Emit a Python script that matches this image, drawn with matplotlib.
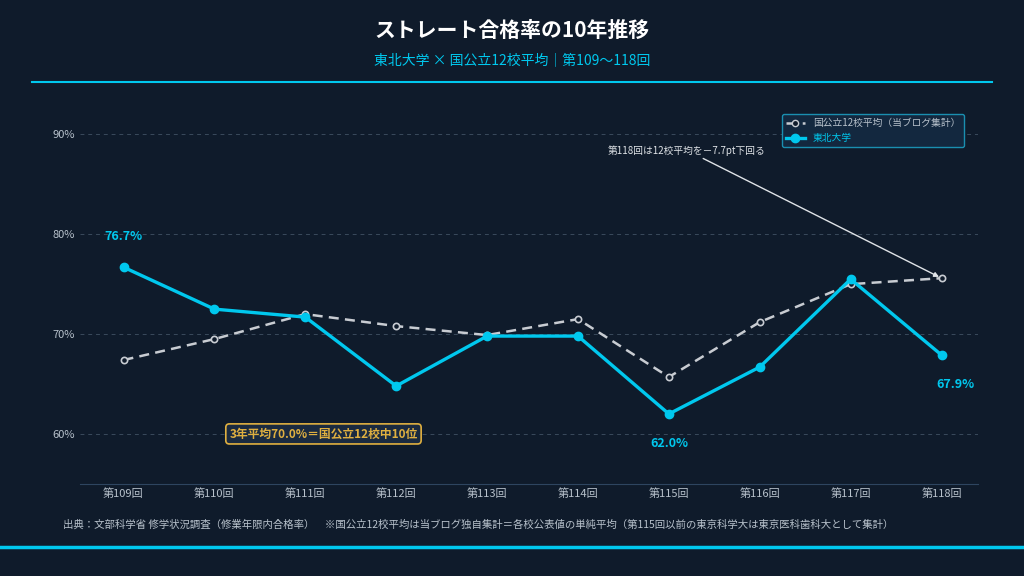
import matplotlib
matplotlib.use('Agg')
import matplotlib.pyplot as plt
from matplotlib.lines import Line2D

plt.rcParams['font.family'] = ['Noto Sans CJK JP', 'DejaVu Sans']

# --- data ---
rounds = ['第109回', '第110回', '第111回', '第112回', '第113回',
          '第114回', '第115回', '第116回', '第117回', '第118回']
tohoku = [76.7, 72.5, 71.7, 64.8, 69.8, 69.8, 62.0, 66.7, 75.5, 67.9]
avg12 = [67.4, 69.5, 72.0, 70.8, 69.9, 71.5, 65.7, 71.2, 75.0, 75.6]
yticks = [60, 70, 80, 90]

BG = '#0f1b2b'
CYAN = '#00c8ee'
GRID = '#3a4a5c'
TXT = '#b8c2cc'
GOLD = '#e0b040'

fig = plt.figure(figsize=(10.24, 5.76), dpi=100, facecolor=BG)
ax = fig.add_axes([0.078, 0.16, 0.877, 0.65], facecolor=BG)

x = list(range(len(rounds)))
ax.plot(x, avg12, color='#c8ccd2', lw=1.8, ls=(0, (4, 2.5)), marker='o', ms=4.5,
        mfc=BG, mec='#c8ccd2', mew=1.2, zorder=3)
ax.plot(x, tohoku, color=CYAN, lw=2.4, marker='o', ms=6, mfc=CYAN, mec=CYAN, zorder=4)

ax.set_xlim(-0.48, 9.4)
ax.set_ylim(55, 92.5)
ax.set_yticks(yticks)
ax.set_yticklabels([f'{v}%' for v in yticks])
ax.set_xticks(x)
ax.set_xticklabels(rounds)
ax.tick_params(colors=TXT, labelsize=8, length=0)
ax.grid(axis='y', color=GRID, ls=(0, (4, 4)), lw=0.7)
for s in ['top', 'right', 'left']:
    ax.spines[s].set_visible(False)
ax.spines['bottom'].set_color('#2e4560')

# value labels
ax.text(0, tohoku[0] + 2.7, f'{tohoku[0]:.1f}%', color=CYAN, fontsize=9, fontweight='bold', ha='center')
ax.text(6, tohoku[6] - 2.3, f'{tohoku[6]:.1f}%', color=CYAN, fontsize=9, fontweight='bold', ha='center', va='top')
ax.text(9.15, tohoku[9] - 2.3, f'{tohoku[9]:.1f}%', color=CYAN, fontsize=9, fontweight='bold', ha='center', va='top')

# gold box
ax.text(2.2, 60, '3年平均70.0%＝国公立12校中10位', color=GOLD, fontsize=8.5, fontweight='bold',
        ha='center', va='center',
        bbox=dict(boxstyle='round,pad=0.3', fc='#1a2a40', ec=GOLD, lw=1.2))

# annotation
ax.annotate('第118回は12校平均を－7.7pt下回る', xy=(9, avg12[9]), xytext=(6.2, 88.4),
            color='#e0e4e8', fontsize=7, ha='center', va='center',
            arrowprops=dict(arrowstyle='-|>', color='#e0e4e8', lw=1, shrinkA=0, shrinkB=2))

handles = [Line2D([], [], color='#c8ccd2', lw=1.8, ls=(0, (4, 2.5)), marker='o', ms=4.5, mfc=BG, mec='#c8ccd2'),
           Line2D([], [], color=CYAN, lw=2.4, marker='o', ms=6)]
leg = ax.legend(handles, ['国公立12校平均（当ブログ集計）', '東北大学'], loc='upper right',
                bbox_to_anchor=(0.99, 1.0), fontsize=7, facecolor='#13283f', edgecolor='#1a8fb0',
                framealpha=1)
leg.get_texts()[0].set_color(TXT)
leg.get_texts()[1].set_color(CYAN)

fig.text(0.5, 0.948, 'ストレート合格率の10年推移', color='white', fontsize=15, fontweight='bold', ha='center', va='center')
fig.text(0.5, 0.894, '東北大学 × 国公立12校平均｜第109〜118回', color=CYAN, fontsize=10, ha='center', va='center')
fig.add_artist(Line2D([0.031, 0.969], [0.857, 0.857], color=CYAN, lw=1.5))
fig.add_artist(Line2D([0, 1], [0.05, 0.05], color=CYAN, lw=2.5))
fig.text(0.062, 0.09, '出典：文部科学省 修学状況調査（修業年限内合格率）　※国公立12校平均は当ブログ独自集計＝各校公表値の単純平均（第115回以前の東京科学大は東京医科歯科大として集計）',
         color=TXT, fontsize=7.5, ha='left', va='center')

fig.savefig('out.png', dpi=100, facecolor=BG)
